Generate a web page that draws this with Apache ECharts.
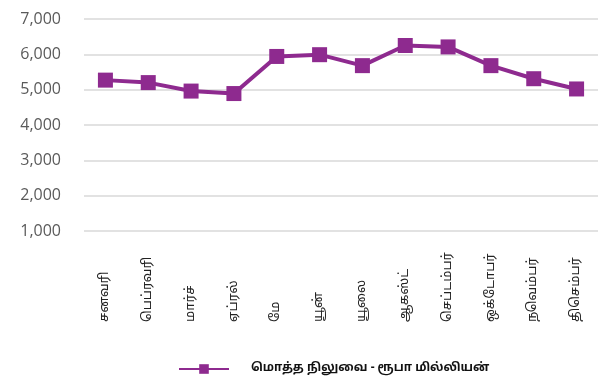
<!DOCTYPE html>
<html>
<head>
<meta charset="utf-8">
<script src="https://cdn.jsdelivr.net/npm/echarts@6/dist/echarts.min.js"></script>
<style>
  html, body { margin: 0; padding: 0; background: #fff; }
  #chart { width: 604px; height: 376px; }
</style>
</head>
<body>
<div id="chart"></div>
<script>
// Monthly categories (Tamil month names)
const months = ['சனவரி', 'பெப்ரவரி', 'மார்ச்', 'ஏப்ரல்', 'மே', 'யூன்', 'யூலை', 'ஆகஸ்ட்', 'செப்டம்பர்', 'ஒக்டோபர்', 'நவெம்பர்', 'திசெம்பர்'];
// Total outstanding, rupees million
const totalOutstanding = [5270, 5200, 4960, 4890, 5940, 5990, 5680, 6250, 6210, 5680, 5310, 5020];
const seriesName = 'மொத்த நிலுவை - ரூபா மில்லியன்';
const yMin = 1000, yMax = 7000, yStep = 1000;

const chart = echarts.init(document.getElementById('chart'), null, { renderer: 'canvas' });
const purple = '#8E2A8F';
const tamilFont = '"Noto Sans Tamil", "Lohit Tamil", "Latha", "Noto Sans", sans-serif';

chart.setOption({
  animation: false,
  backgroundColor: '#ffffff',
  grid: { left: 84, right: 6, top: 19, bottom: 145, containLabel: false },
  xAxis: {
    type: 'category',
    data: months,
    boundaryGap: true,
    axisLine: { show: false },
    axisTick: { show: false },
    axisLabel: {
      rotate: 90,
      margin: 91,
      align: 'left',
      verticalAlign: 'middle',
      color: '#222',
      fontSize: 13,
      fontFamily: tamilFont,
      interval: 0
    }
  },
  yAxis: {
    type: 'value',
    min: yMin,
    max: yMax,
    interval: yStep,
    axisLine: { show: false },
    axisTick: { show: false },
    axisLabel: {
      margin: 23,
      color: '#5a5a5a',
      fontSize: 16,
      fontFamily: '"Open Sans", "DejaVu Sans", sans-serif',
      formatter: v => v.toLocaleString('en-US')
    },
    splitLine: { show: true, lineStyle: { color: '#d9d9d9', width: 1.5 } }
  },
  legend: {
    data: [seriesName],
    left: 173,
    top: 358,
    itemWidth: 50,
    itemHeight: 12,
    textStyle: {
      color: '#111',
      fontSize: 12,
      fontWeight: 'bold',
      fontFamily: tamilFont,
      padding: [0, 0, 0, 17]
    }
  },
  series: [{
    name: seriesName,
    type: 'line',
    data: totalOutstanding,
    symbol: 'rect',
    symbolSize: 15,
    lineStyle: { color: purple, width: 4 },
    itemStyle: { color: purple },
    z: 3
  }]
});
</script>
</body>
</html>
